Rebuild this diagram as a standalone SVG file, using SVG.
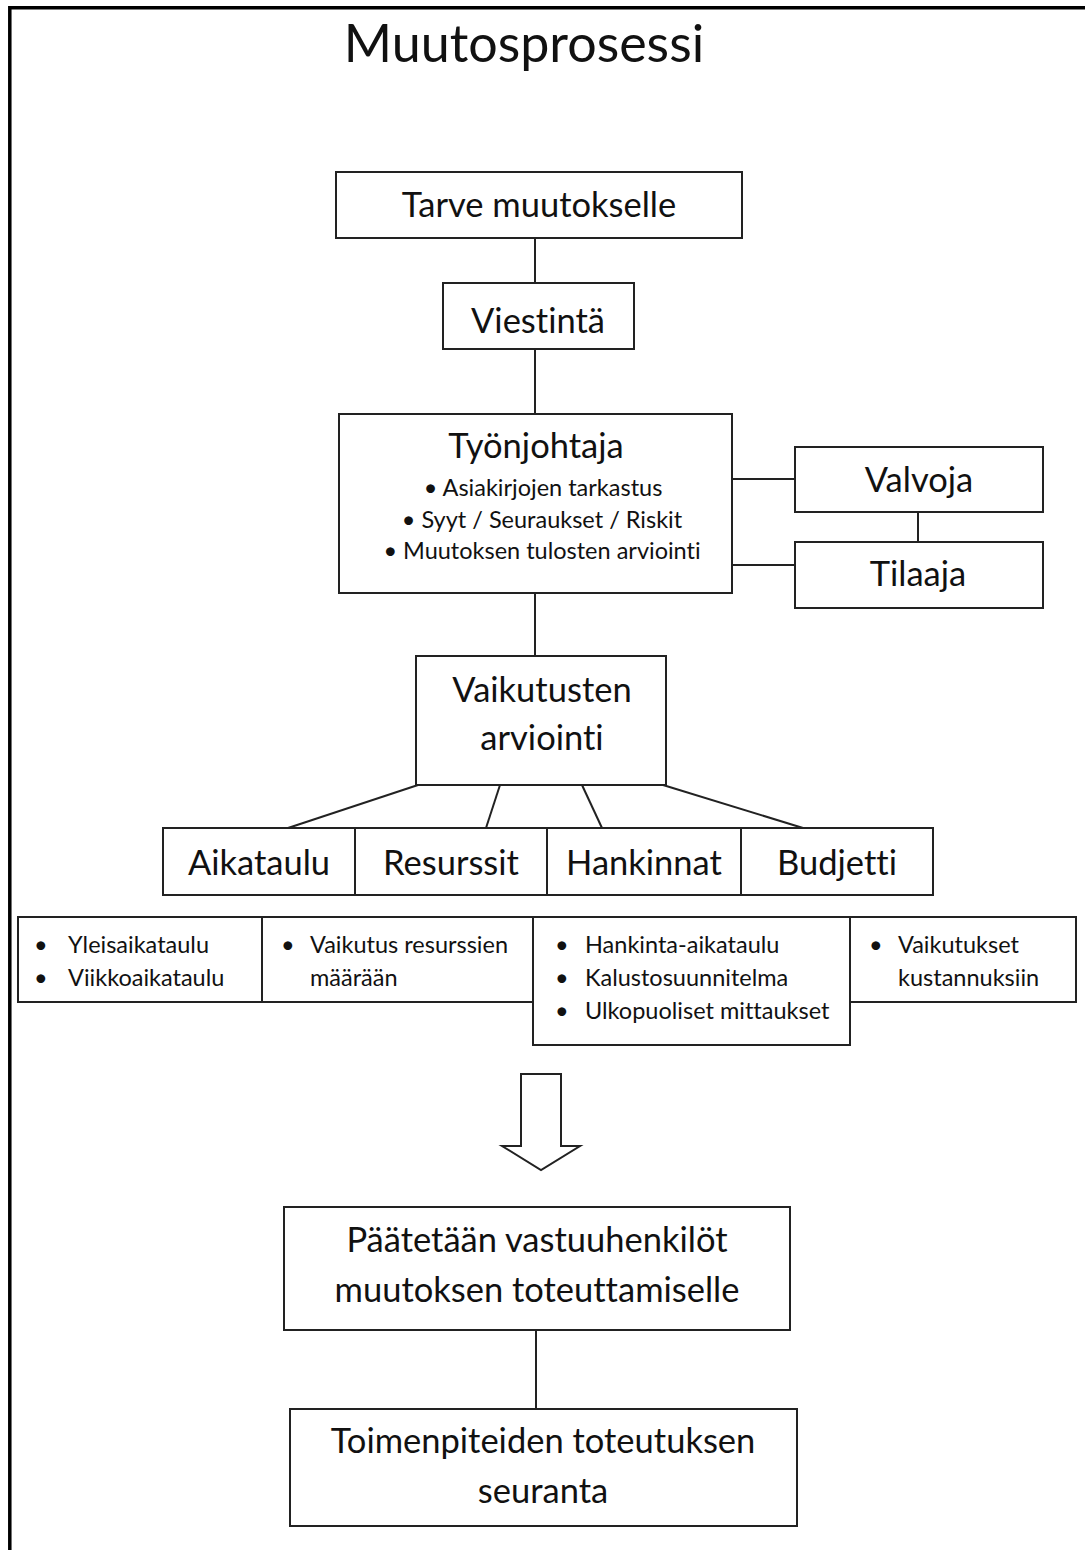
<svg xmlns="http://www.w3.org/2000/svg" width="1085" height="1550" viewBox="0 0 1085 1550">
  <style>
    .box { fill: #ffffff; stroke: #222222; stroke-width: 2; }
    .link { stroke: #222222; stroke-width: 2; fill: none; }
    .t { font-family: Lato, "Open Sans", sans-serif; fill: #111111; font-variant-ligatures: none; }
    .title { font-size: 52px; text-anchor: middle; }
    .lbl { font-size: 34.5px; text-anchor: middle; }
    .sub { font-size: 23.5px; text-anchor: middle; }
    .item { font-size: 23.5px; }
  </style>

  <!-- page frame (top and left edges) -->
  <rect x="0" y="0" width="1085" height="1550" fill="#ffffff"/>
  <path d="M9.8 1550 V7.7 H1085" fill="none" stroke="#000000" stroke-width="3.5"/>

  <text class="t title" x="524" y="62">Muutosprosessi</text>

  <!-- connectors -->
  <g id="connectors">
    <line class="link" x1="535" y1="238" x2="535" y2="283"/>
    <line class="link" x1="535" y1="349" x2="535" y2="414"/>
    <line class="link" x1="732" y1="479" x2="795" y2="479"/>
    <line class="link" x1="732" y1="565" x2="795" y2="565"/>
    <line class="link" x1="918" y1="512" x2="918" y2="542"/>
    <line class="link" x1="535" y1="593" x2="535" y2="656"/>
    <line class="link" x1="418" y1="785" x2="288" y2="828"/>
    <line class="link" x1="500" y1="785" x2="486" y2="828"/>
    <line class="link" x1="582" y1="785" x2="602" y2="828"/>
    <line class="link" x1="663" y1="785" x2="803" y2="828"/>
    <line class="link" x1="536" y1="1330" x2="536" y2="1409"/>
  </g>

  <g id="tarve">
    <rect class="box" x="336" y="172" width="406" height="66"/>
    <text class="t lbl" x="539" y="217">Tarve muutokselle</text>
  </g>

  <g id="viestinta">
    <rect class="box" x="443" y="283" width="191" height="66"/>
    <text class="t lbl" x="538" y="333">Viestintä</text>
  </g>

  <g id="tyonjohtaja">
    <rect class="box" x="339" y="414" width="393" height="179"/>
    <text class="t lbl" x="536" y="458">Työnjohtaja</text>
    <text class="t sub" x="543" y="496">• Asiakirjojen tarkastus</text>
    <text class="t sub" x="542" y="528">• Syyt / Seuraukset / Riskit</text>
    <text class="t sub" x="542" y="559">• Muutoksen tulosten arviointi</text>
  </g>

  <g id="valvoja">
    <rect class="box" x="795" y="447" width="248" height="65"/>
    <text class="t lbl" x="919" y="492">Valvoja</text>
  </g>

  <g id="tilaaja">
    <rect class="box" x="795" y="542" width="248" height="66"/>
    <text class="t lbl" x="918" y="586">Tilaaja</text>
  </g>

  <g id="vaikutusten">
    <rect class="box" x="416" y="656" width="250" height="129"/>
    <text class="t lbl" x="542" y="702">Vaikutusten</text>
    <text class="t lbl" x="542" y="750">arviointi</text>
  </g>

  <g id="aikataulu">
    <rect class="box" x="163" y="828" width="192" height="67"/>
    <text class="t lbl" x="259" y="875">Aikataulu</text>
  </g>
  <g id="resurssit">
    <rect class="box" x="355" y="828" width="192" height="67"/>
    <text class="t lbl" x="451" y="875">Resurssit</text>
  </g>
  <g id="hankinnat">
    <rect class="box" x="547" y="828" width="194" height="67"/>
    <text class="t lbl" x="644" y="875">Hankinnat</text>
  </g>
  <g id="budjetti">
    <rect class="box" x="741" y="828" width="192" height="67"/>
    <text class="t lbl" x="837" y="875">Budjetti</text>
  </g>

  <g id="aikataulu-items">
    <rect class="box" x="18" y="917" width="244" height="85"/>
    <text class="t item" x="34" y="953">•</text>
    <text class="t item" x="68" y="953">Yleisaikataulu</text>
    <text class="t item" x="34" y="986">•</text>
    <text class="t item" x="68" y="986">Viikkoaikataulu</text>
  </g>
  <g id="resurssit-items">
    <rect class="box" x="262" y="917" width="271" height="85"/>
    <text class="t item" x="281" y="953">•</text>
    <text class="t item" x="310" y="953">Vaikutus resurssien</text>
    <text class="t item" x="310" y="986">määrään</text>
  </g>
  <g id="hankinnat-items">
    <rect class="box" x="533" y="917" width="317" height="128"/>
    <text class="t item" x="555" y="953">•</text>
    <text class="t item" x="585" y="953">Hankinta-aikataulu</text>
    <text class="t item" x="555" y="986">•</text>
    <text class="t item" x="585" y="986">Kalustosuunnitelma</text>
    <text class="t item" x="555" y="1019">•</text>
    <text class="t item" x="585" y="1019">Ulkopuoliset mittaukset</text>
  </g>
  <g id="budjetti-items">
    <rect class="box" x="850" y="917" width="226" height="85"/>
    <text class="t item" x="869" y="953">•</text>
    <text class="t item" x="898" y="953">Vaikutukset</text>
    <text class="t item" x="898" y="986">kustannuksiin</text>
  </g>

  <!-- hollow block arrow -->
  <g id="arrow">
    <path class="box" d="M521 1074 H561 V1146 H580 L541 1170 L502 1146 H521 Z"/>
  </g>

  <g id="vastuuhenkilot">
    <rect class="box" x="284" y="1207" width="506" height="123"/>
    <text class="t lbl" x="537" y="1252">Päätetään vastuuhenkilöt</text>
    <text class="t lbl" x="537" y="1302">muutoksen toteuttamiselle</text>
  </g>

  <g id="seuranta">
    <rect class="box" x="290" y="1409" width="507" height="117"/>
    <text class="t lbl" x="543" y="1453">Toimenpiteiden toteutuksen</text>
    <text class="t lbl" x="543" y="1503">seuranta</text>
  </g>
</svg>
